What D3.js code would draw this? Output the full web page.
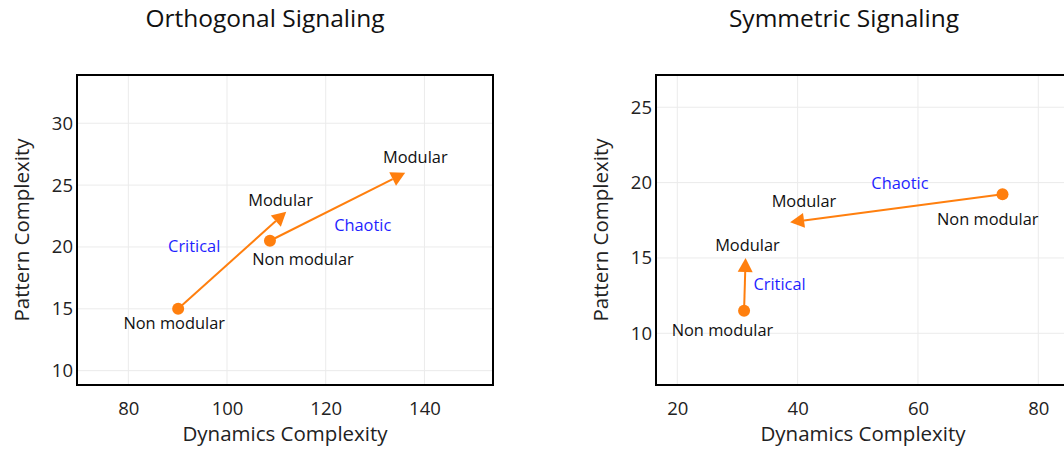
<!DOCTYPE html>
<html>
<head>
<meta charset="utf-8">
<script src="https://cdn.jsdelivr.net/npm/d3@7"></script>
<style>
  html, body { margin: 0; padding: 0; background: #fff; }
  svg { display: block; font-family: "Open Sans", sans-serif; }
</style>
</head>
<body>
<svg id="chart" width="1064" height="449"></svg>
<script>
// Panel titles and axis ticks
const panelTitles = ["Orthogonal Signaling", "Symmetric Signaling"];
const xTicksOrtho = [80, 100, 120, 140];
const yTicksOrtho = [10, 15, 20, 25, 30];
const xTicksSym = [20, 40, 60, 80];
const yTicksSym = [10, 15, 20, 25];
const xDomainOrtho = [69.6, 153.9];
const yDomainOrtho = [8.84, 33.9];
const xDomainSym = [16.46, 85.6];
const yDomainSym = [6.57, 27.14];

// Regime transitions: start (non modular) -> end (modular)
const regimes = ["Critical", "Chaotic"];
const orthoStartX = [90.1, 108.7];
const orthoStartY = [15.0, 20.5];
const orthoEndX = [112.0, 136.1];
const orthoEndY = [22.85, 26.0];
const symStartX = [31.1, 74.05];
const symStartY = [11.5, 19.22];
const symEndX = [31.35, 38.75];
const symEndY = [15.0, 17.37];

// Annotation anchors (data units)
const orthoStartLabelX = [89.3, 115.4];
const orthoStartLabelY = [13.88, 19.09];
const orthoEndLabelX = [110.85, 138.15];
const orthoEndLabelY = [23.84, 27.3];
const orthoRegimeLabelX = [93.35, 127.5];
const orthoRegimeLabelY = [20.1, 21.82];
const symStartLabelX = [27.5, 71.6];
const symStartLabelY = [10.27, 17.6];
const symEndLabelX = [31.66, 41.05];
const symEndLabelY = [15.86, 18.78];
const symRegimeLabelX = [37.0, 57.0];
const symRegimeLabelY = [13.29, 20.0];

const startName = "Non modular";
const endName = "Modular";
const xTitle = "Dynamics Complexity";
const yTitle = "Pattern Complexity";

const orange = "#ff7f0e";
const svg = d3.select("#chart");

const panels = [
  {
    title: panelTitles[0], titleX: 265, xTitleX: 285,
    left: 77, top: 75, width: 416, height: 310,
    xDomain: xDomainOrtho, yDomain: yDomainOrtho, xTicks: xTicksOrtho, yTicks: yTicksOrtho,
    sx: orthoStartX, sy: orthoStartY, ex: orthoEndX, ey: orthoEndY,
    slx: orthoStartLabelX, sly: orthoStartLabelY, elx: orthoEndLabelX, ely: orthoEndLabelY,
    rlx: orthoRegimeLabelX, rly: orthoRegimeLabelY, yTitleX: 29
  },
  {
    title: panelTitles[1], titleX: 844, xTitleX: 863,
    left: 656, top: 75, width: 416, height: 310,
    xDomain: xDomainSym, yDomain: yDomainSym, xTicks: xTicksSym, yTicks: yTicksSym,
    sx: symStartX, sy: symStartY, ex: symEndX, ey: symEndY,
    slx: symStartLabelX, sly: symStartLabelY, elx: symEndLabelX, ely: symEndLabelY,
    rlx: symRegimeLabelX, rly: symRegimeLabelY, yTitleX: 608
  }
];

panels.forEach((p, pi) => {
  const x = d3.scaleLinear().domain(p.xDomain).range([p.left, p.left + p.width]);
  const y = d3.scaleLinear().domain(p.yDomain).range([p.top + p.height, p.top]);
  const g = svg.append("g");

  const clipId = "clip" + pi;
  svg.append("clipPath").attr("id", clipId)
    .append("rect").attr("x", p.left).attr("y", p.top).attr("width", p.width).attr("height", p.height);

  // grid
  const grid = g.append("g").attr("clip-path", `url(#${clipId})`);
  grid.selectAll(".gx").data(p.xTicks).join("line")
    .attr("x1", d => x(d)).attr("x2", d => x(d))
    .attr("y1", p.top).attr("y2", p.top + p.height)
    .attr("stroke", "#ebebeb").attr("stroke-width", 1);
  grid.selectAll(".gy").data(p.yTicks).join("line")
    .attr("x1", p.left).attr("x2", p.left + p.width)
    .attr("y1", d => y(d)).attr("y2", d => y(d))
    .attr("stroke", "#ebebeb").attr("stroke-width", 1);

  // axes (labels only)
  const xAxis = g.append("g").attr("transform", `translate(0,${p.top + p.height})`)
    .call(d3.axisBottom(x).tickValues(p.xTicks).tickSize(0).tickPadding(17));
  const yAxis = g.append("g").attr("transform", `translate(${p.left},0)`)
    .call(d3.axisLeft(y).tickValues(p.yTicks).tickSize(0).tickPadding(4));
  [xAxis, yAxis].forEach(a => {
    a.select(".domain").remove();
    a.selectAll("text").attr("font-family", "Open Sans").attr("font-size", 18.5).attr("fill", "#222");
  });

  // frame
  g.append("rect").attr("x", p.left).attr("y", p.top).attr("width", p.width).attr("height", p.height)
    .attr("fill", "none").attr("stroke", "#000").attr("stroke-width", 2);

  // arrows
  const marks = g.append("g").attr("clip-path", `url(#${clipId})`);
  regimes.forEach((r, i) => {
    const x0 = x(p.sx[i]), y0 = y(p.sy[i]), x1 = x(p.ex[i]), y1 = y(p.ey[i]);
    const ang = Math.atan2(y1 - y0, x1 - x0);
    const headLen = 14, headHalf = 7.5;
    const bx = x1 - headLen * Math.cos(ang), by = y1 - headLen * Math.sin(ang);
    marks.append("line").attr("x1", x0).attr("y1", y0).attr("x2", bx).attr("y2", by)
      .attr("stroke", orange).attr("stroke-width", 2);
    const px = -Math.sin(ang), py = Math.cos(ang);
    marks.append("path")
      .attr("d", `M${x1},${y1}L${bx + px * headHalf},${by + py * headHalf}L${bx - px * headHalf},${by - py * headHalf}Z`)
      .attr("fill", orange);
    marks.append("circle").attr("cx", x0).attr("cy", y0).attr("r", 6).attr("fill", orange);
  });

  // annotations
  const ann = g.append("g").attr("font-size", 16.4).attr("text-anchor", "middle").attr("dominant-baseline", "central");
  regimes.forEach((r, i) => {
    ann.append("text").attr("x", x(p.slx[i])).attr("y", y(p.sly[i])).attr("fill", "#111").text(startName);
    ann.append("text").attr("x", x(p.elx[i])).attr("y", y(p.ely[i])).attr("fill", "#111").text(endName);
    ann.append("text").attr("x", x(p.rlx[i])).attr("y", y(p.rly[i])).attr("fill", "#1f1fff").text(r);
  });

  // titles
  g.append("text").attr("x", p.titleX).attr("y", 27).attr("text-anchor", "middle")
    .attr("font-size", 24.5).attr("fill", "#111").text(p.title);
  g.append("text").attr("x", p.xTitleX).attr("y", 441).attr("text-anchor", "middle")
    .attr("font-size", 20.5).attr("fill", "#222").text(xTitle);
  g.append("text").attr("transform", `translate(${p.yTitleX},230) rotate(-90)`).attr("text-anchor", "middle")
    .attr("font-size", 20.5).attr("fill", "#222").text(yTitle);
});
</script>
</body>
</html>
